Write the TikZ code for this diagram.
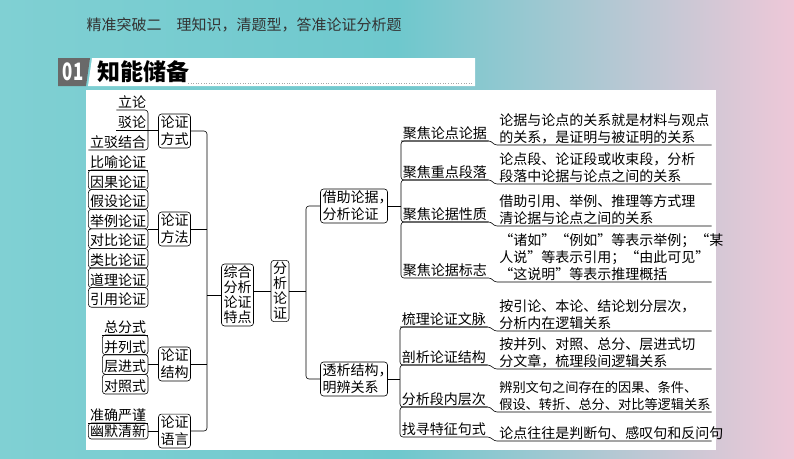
\documentclass[tikz,border=0pt]{standalone}
\usepackage{fontspec}
\setmainfont{Noto Sans CJK SC}

\newcommand{\lblfont}{\fontsize{14}{17}\selectfont}
\newcommand{\halfcomma}{\makebox[0.5em][l]{，}}

\definecolor{bgleft}{RGB}{128,208,211}
\definecolor{bgmid}{RGB}{110,200,205}
\definecolor{bgright}{RGB}{238,200,216}
\definecolor{tagbg}{RGB}{105,105,105}

\begin{document}
\begin{tikzpicture}[x=1pt,y=-1pt,line width=0.6pt,
    item/.style={inner xsep=1.5pt,inner ysep=1pt,font=\lblfont},
    box/.style={draw,rounded corners=3pt,align=center,inner sep=2pt,font=\lblfont},
    tall/.style={box,font=\fontsize{14}{15}\selectfont},
    desc/.style={align=left,text width=210pt,inner xsep=2pt,inner ysep=1pt,font=\lblfont}
  ]
  \useasboundingbox (0,0) rectangle (794,458);
  \shade[left color=bgleft,right color=bgright,middle color=bgmid] (0,0) rectangle (794,458);

  % title and banner
  \node at (83,25) [anchor=west,text=black!80,font=\fontsize{15}{17}\selectfont] (title)
    {精准突破二　理知识，清题型，答准论证分析题};
  \fill[white] (92,58) -- (475,58) -- (475,86) -- (88,86) -- cycle;
  \fill[tagbg] (58,58) -- (90,58) -- (86,86) -- (58,86) -- cycle;
  \node at (73,72) [text=white,font=\fontsize{24}{24}\selectfont\bfseries] (num) {\scalebox{0.7}[1]{01}};
  \node at (94,72) [anchor=west,font=\fontsize{23}{23}\selectfont\bfseries] (sect) {知能储备};
  \draw[black!35,dotted] (188,83) -- (472,83);

  % panel
  \fill[white] (86,90) rectangle (716,450);

  % left: 论证方式
  \node at (148,110) [item,anchor=south east] (lf1) {立论};
  \node at (148,130) [item,anchor=south east] (lf2) {驳论};
  \node at (148,150) [item,anchor=south east] (lf3) {立驳结合};
  \node at (174.5,131) [box] (fs) {论证\\方式};

  % left: 论证方法
  \node at (148,170) [item,anchor=south east] (m1) {比喻论证};
  \node at (148,189.6) [item,anchor=south east] (m2) {因果论证};
  \node at (148,209.2) [item,anchor=south east] (m3) {假设论证};
  \node at (148,228.8) [item,anchor=south east] (m4) {举例论证};
  \node at (148,248.4) [item,anchor=south east] (m5) {对比论证};
  \node at (148,268) [item,anchor=south east] (m6) {类比论证};
  \node at (148,287.6) [item,anchor=south east] (m7) {道理论证};
  \node at (148,307.2) [item,anchor=south east] (m8) {引用论证};
  \node at (174.5,229) [box] (ff) {论证\\方法};

  % left: 论证结构
  \node at (148,335) [item,anchor=south east] (s1) {总分式};
  \node at (148,354.7) [item,anchor=south east] (s2) {并列式};
  \node at (148,374.3) [item,anchor=south east] (s3) {层进式};
  \node at (148,394) [item,anchor=south east] (s4) {对照式};
  \node at (174.5,364) [box] (jg) {论证\\结构};

  % left: 论证语言
  \node at (148,423) [item,anchor=south east] (l1) {准确严谨};
  \node at (148,439) [item,anchor=south east] (l2) {幽默清新};
  \node at (174.5,431) [box] (yy) {论证\\语言};

  % centre
  \coordinate (sp) at (207,0);
  \node at (237.5,295) [tall] (zh) {综合\\分析\\论证\\特点};
  \node at (280,291) [tall] (fx) {分\\析\\论\\证};
  \coordinate (br) at (306,0);
  \node at (354,206) [box,align=left] (jz) {借助论据\halfcomma\\分析论证};
  \node at (354,379) [box,align=left] (ts) {透析结构\halfcomma\\明辨关系};

  % right: 借助论据
  \node at (401,141) [item,anchor=south west] (r1) {聚焦论点论据};
  \node at (401,180) [item,anchor=south west] (r2) {聚焦重点段落};
  \node at (401,222) [item,anchor=south west] (r3) {聚焦论据性质};
  \node at (401,278) [item,anchor=south west] (r4) {聚焦论据标志};
  \node at (497,145) [desc,anchor=south west] (d1) {论据与论点的关系就是材料与观点\\的关系，是证明与被证明的关系};
  \node at (497,184) [desc,anchor=south west] (d2) {论点段、论证段或收束段，分析\\段落中论据与论点之间的关系};
  \node at (497,226) [desc,anchor=south west] (d3) {借助引用、举例、推理等方式理\\清论据与论点之间的关系};
  \node at (497,282) [desc,anchor=south west] (d4) {“诸如”“例如”等表示举例；“某\\人说”等表示引用；“由此可见”\\“这说明”等表示推理概括};

  % right: 透析结构
  \node at (400,327) [item,anchor=south west] (t1) {梳理论证文脉};
  \node at (400,365) [item,anchor=south west] (t2) {剖析论证结构};
  \node at (400,407) [item,anchor=south west] (t3) {分析段内层次};
  \node at (400,437) [item,anchor=south west] (t4) {找寻特征句式};
  \node at (497,331) [desc,anchor=south west] (e1) {按引论、本论、结论划分层次，\\分析内在逻辑关系};
  \node at (497,369) [desc,anchor=south west] (e2) {按并列、对照、总分、层进式切\\分文章，梳理段间逻辑关系};
  \node at (497,412) [desc,anchor=south west,font=\fontsize{13.2}{17}\selectfont] (e3) {辨别文句之间存在的因果、条件、\\假设、转折、总分、对比等逻辑关系};
  \node at (497,441) [desc,anchor=south west] (e4) {论点往往是判断句、感叹句和反问句};

  % connectors, left
  \draw[rounded corners=3pt] (lf1.south west) -- (lf1.south east) -- (lf3.south east) -- (lf3.south west);
  \draw (lf2.south west) -- (lf2.south east -| fs.west);
  \draw (m1.south west) -- (m1.south east);
  \draw[rounded corners=3pt] (m1.south west) rectangle (m2.south east);
  \draw[rounded corners=3pt] (m2.south west) rectangle (m3.south east);
  \draw[rounded corners=3pt] (m3.south west) rectangle (m4.south east);
  \draw[rounded corners=3pt] (m4.south west) rectangle (m5.south east);
  \draw[rounded corners=3pt] (m5.south west) rectangle (m6.south east);
  \draw[rounded corners=3pt] (m6.south west) rectangle (m7.south east);
  \draw[rounded corners=3pt] (m7.south west) rectangle (m8.south east);
  \draw (m4.south east) -- (m4.south east -| ff.west);
  \draw (s1.south west) -- (s1.south east);
  \draw[rounded corners=3pt] (s1.south west) rectangle (s2.south east);
  \draw[rounded corners=3pt] (s2.south west) rectangle (s3.south east);
  \draw[rounded corners=3pt] (s3.south west) rectangle (s4.south east);
  \draw (jg.west) -- (jg.west -| s3.south east);
  \draw (l1.south west) -- (l1.south east);
  \draw[rounded corners=3pt] (l1.south west) rectangle (l2.south east);
  \draw (yy.west) -- (yy.west -| l2.south east);

  % spine
  \draw[rounded corners=3pt] (fs.east) -- (fs.east -| sp) -- (yy.east -| sp) -- (yy.east);
  \draw (ff.east) -- (ff.east -| sp);
  \draw (jg.east) -- (jg.east -| sp);
  \draw (zh.west) -- (zh.west -| sp);
  \draw (fx.west) -- (fx.west -| zh.east);
  \draw (fx.east) -- (fx.east -| br);
  \draw[rounded corners=3pt] (jz.west) -- (jz.west -| br) -- (ts.west -| br) -- (ts.west);

  % connectors, right
  \draw (jz.east) -- (jz.east -| r1.south west);
  \draw (r1.south west) -- (r1.south east) to[out=0,in=180] (d1.south west) -- (d1.south east);
  \draw (r2.south east) to[out=0,in=180] (d2.south west) -- (d2.south east);
  \draw (r3.south east) to[out=0,in=180] (d3.south west) -- (d3.south east);
  \draw (r4.south east) to[out=0,in=180] (d4.south west) -- (d4.south east);
  \draw[rounded corners=3pt] (r2.south east) -- (r2.south west) -- (r1.south west) -- (r1.south east);
  \draw[rounded corners=3pt] (r3.south east) -- (r3.south west) -- (r2.south west) -- (r2.south east);
  \draw[rounded corners=3pt] (r4.south east) -- (r4.south west) -- (r3.south west) -- (r3.south east);

  \draw (ts.east) -- (ts.east -| t1.south west);
  \draw (t1.south west) -- (t1.south east) to[out=0,in=180] (e1.south west) -- (e1.south east);
  \draw (t2.south east) to[out=0,in=180] (e2.south west) -- (e2.south east);
  \draw (t3.south east) to[out=0,in=180] (e3.south west) -- (e3.south east);
  \draw (t4.south east) to[out=0,in=180] (e4.south west) -- (e4.south east);
  \draw[rounded corners=3pt] (t2.south east) -- (t2.south west) -- (t1.south west) -- (t1.south east);
  \draw[rounded corners=3pt] (t3.south east) -- (t3.south west) -- (t2.south west) -- (t2.south east);
  \draw[rounded corners=3pt] (t4.south east) -- (t4.south west) -- (t3.south west) -- (t3.south east);
\end{tikzpicture}
\end{document}
